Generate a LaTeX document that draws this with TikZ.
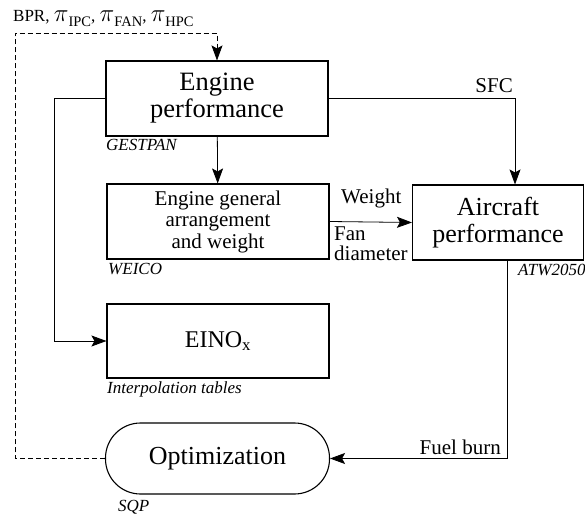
\documentclass[tikz,border=0pt]{standalone}
\usepackage{amsmath}
\usepackage{fontspec}
\setmainfont{Liberation Serif}
\usepackage{tikz}
\usetikzlibrary{arrows.meta,positioning,calc}
\newcommand{\pisub}[1]{{\fontsize{30}{30}\selectfont$\pi$}\raisebox{-5pt}{\fontsize{14.5}{15}\selectfont #1}}
\tikzset{
  block/.style={rectangle, draw=black, line width=1.1pt, inner sep=2pt,
                minimum width=222pt, minimum height=75pt, align=center,
                font=\rmfamily\fontsize{26}{27}\selectfont},
  tool/.style={anchor=west, inner sep=0pt, font=\rmfamily\itshape\fontsize{17}{18}\selectfont},
  lbl/.style={inner sep=0pt, font=\rmfamily\fontsize{21}{20}\selectfont, align=left},
  arr/.style={-{Stealth[length=15pt,width=11pt,inset=3pt]}, line width=0.8pt},
}
\begin{document}
\begin{tikzpicture}[x=1pt,y=-1pt]
  \useasboundingbox (0,0) rectangle (585,518);
  % Blocks
  \node[block, font=\rmfamily\fontsize{26.5}{27}\selectfont] (ep) at (217,98.5) {Engine\\performance};
  \node[block, font=\rmfamily\fontsize{21}{21.5}\selectfont] (ega) at (218,221.5)
       {Engine general\\arrangement\\and weight};
  \node[block, minimum width=171pt] (acp) at (498,222.5) {Aircraft\\performance};
  \node[block, minimum height=74pt, font=\rmfamily\fontsize{24}{24}\selectfont] (eino) at (218,341)
       {EINO$_{\text{x}}$};
  \node[block, minimum width=224pt, minimum height=71pt, rounded corners=35pt] (opt) at (217.5,458.5)
       {Optimization};
  % Tool names
  \node[tool] (gestpan) at (106,145) {GESTPAN};
  \node[tool] (weico) at (108,269) {WEICO};
  \node[tool] (interp) at (107,389) {Interpolation tables};
  \node[tool] (atw) at (518,270) {ATW2050};
  \node[tool] (sqp) at (118,507) {SQP};
  % Connectors
  \draw[arr] (ep) -- (ega);
  \draw[arr] (ep.east) -| ([xshift=17pt]acp.north);
  \node[lbl, anchor=east] (sfc) at (513,86) {SFC};
  \draw[arr] (ega.east) -- (acp.west);
  \node[lbl, anchor=west] (weight) at (341,198) {Weight};
  \node[lbl, anchor=north west] (fandia) at (334,227) {Fan\\diameter};
  \draw[arr] (ep.west) -- ++(-51,0) |- (eino.west);
  \draw[arr] ([xshift=9.5pt]acp.south) |- (opt.east);
  \node[lbl, anchor=east] (fuel) at (501,447) {Fuel burn};
  % Feedback
  \coordinate (fb) at (15,33);
  \draw[arr, dash pattern=on 5pt off 3pt] (opt.west) -| (fb) -| (ep.north);
  \node[inner sep=0pt, anchor=base west, font=\rmfamily\fontsize{17}{18}\selectfont] (vars) at (13,21.5)
       {BPR, \pisub{IPC}, \pisub{FAN}, \pisub{HPC}};
\end{tikzpicture}
\end{document}
